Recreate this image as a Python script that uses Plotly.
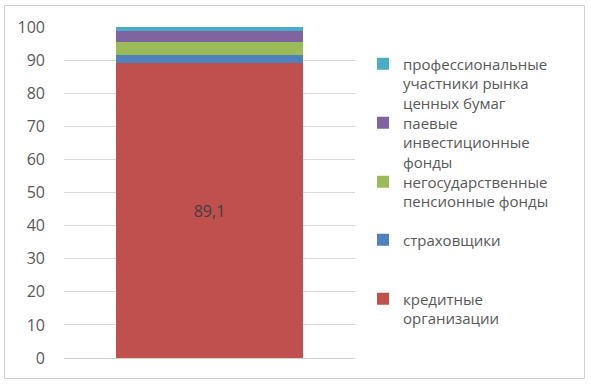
import plotly.graph_objects as go

categories = [""]
series_names = [
    "кредитные<br>организации",
    "страховщики",
    "негосударственные<br>пенсионные фонды",
    "паевые<br>инвестиционные<br>фонды",
    "профессиональные<br>участники рынка<br>ценных бумаг",
]
series_values = [89.1, 2.5, 3.8, 3.5, 1.1]
series_labels = ["89,1", "", "", "", ""]
series_colors = ["#C0504D", "#4F81BD", "#9BBB59", "#8064A2", "#4BACC6"]
tick_values = [0, 10, 20, 30, 40, 50, 60, 70, 80, 90, 100]

W, H = 591, 385
L, R, T, B = 64, 355, 27, 358
pw, ph = R - L, B - T

def px_x(x):
    return (x - L) / pw

def px_y(y):
    return (B - y) / ph

# legend first-line centres in reference pixels
legend_centres = [300, 241, 183, 124, 65]

fig = go.Figure()
for i, (name, val, lab, col) in enumerate(zip(series_names, series_values, series_labels, series_colors)):
    lname = "legend" if i == 0 else f"legend{i+1}"
    fig.add_trace(go.Bar(
        x=categories, y=[val], name=name,
        marker=dict(color=col, line=dict(width=0)),
        text=[lab] if lab else None,
        textposition="inside", insidetextanchor="middle",
        textfont=dict(family="Open Sans", size=16, color="#404040"),
        width=0.643, legend=lname, hoverinfo="skip",
    ))

layout_legends = {}
for i in range(len(series_names)):
    lname = "legend" if i == 0 else f"legend{i+1}"
    layout_legends[lname] = dict(
        x=px_x(403 - 40), xanchor="left",
        y=px_y(legend_centres[i] - 17.5), yanchor="top",
        bgcolor="rgba(0,0,0,0)", borderwidth=0,
        font=dict(family="Open Sans", size=15, color="#595959"),
        valign="top", itemclick=False, itemdoubleclick=False,
    )

fig.update_layout(
    width=W, height=H,
    margin=dict(l=L, r=W - R, t=T, b=H - B),
    barmode="stack", bargap=0,
    plot_bgcolor="white", paper_bgcolor="white",
    showlegend=True,
    xaxis=dict(range=[-0.5, 0.5], showticklabels=False, showgrid=False,
               zeroline=False, showline=False, fixedrange=True),
    yaxis=dict(range=[0, 100], tickvals=tick_values,
               showgrid=True, gridcolor="#D9D9D9", gridwidth=1,
               zeroline=True, zerolinecolor="#D0D0D0", zerolinewidth=1,
               showline=False, ticks="", ticklabelstandoff=18,
               tickfont=dict(family="Open Sans", size=16, color="#595959"),
               fixedrange=True),
    shapes=[dict(type="rect", xref="paper", yref="paper",
                 x0=px_x(4.5), x1=px_x(584.5), y0=px_y(378.5), y1=px_y(5.5),
                 line=dict(color="#D0D0D0", width=1), layer="above")],
    **layout_legends,
)

fig.write_html("out.html",
               config={"displayModeBar": False, "staticPlot": False},
               post_script="document.body.style.margin='0px';document.body.style.overflow='hidden';")
